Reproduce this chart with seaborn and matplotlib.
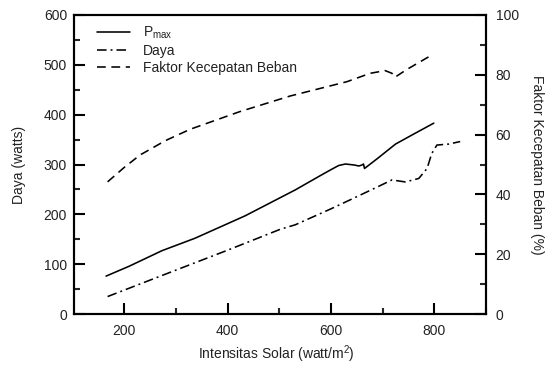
import matplotlib
matplotlib.use("Agg")
import matplotlib.pyplot as plt
import seaborn as sns
from matplotlib.ticker import MultipleLocator

# ---- data ----
intensitas_pmax = [165, 210, 273, 337, 434, 531, 580, 599, 615, 628, 645, 654, 660, 663, 665, 690, 725, 760, 799]
pmax = [76, 96, 127, 152, 197, 249, 278, 289, 298, 301, 299, 297, 299, 301, 292, 312, 341, 361, 383]

intensitas_daya = [168, 280, 400, 502, 531, 600, 637, 690, 718, 744, 770, 786, 795, 805, 828, 850]
daya = [35, 80, 128, 170, 179, 211, 229, 255, 269, 265, 272, 292, 322, 339, 341, 346]

intensitas_faktor = [168, 200, 231, 280, 328, 424, 521, 631, 676, 705, 718, 724, 747, 797]
faktor = [44.2, 49, 53.2, 58, 61.8, 67.7, 72.9, 77.7, 80.5, 81.4, 80.5, 79.2, 81.8, 86.8]

label_pmax = r"P$_{\mathregular{max}}$"
label_daya = "Daya"
label_faktor = "Faktor Kecepatan Beban"

sns.set_style("ticks")
plt.rcParams["font.family"] = ["Liberation Sans", "DejaVu Sans"]
plt.rcParams["mathtext.default"] = "regular"

fig = plt.figure(figsize=(5.51, 3.65), dpi=100)
ax = fig.add_axes([74 / 551, 1 - 314 / 365, (486 - 74) / 551, (314 - 15) / 365])
ax2 = ax.twinx()

lw = 1.15
sns.lineplot(x=intensitas_pmax, y=pmax, ax=ax, color="black", linewidth=lw,
             label=label_pmax, legend=False)
sns.lineplot(x=intensitas_daya, y=daya, ax=ax, color="black", linewidth=lw,
             linestyle=(0, (6, 2.5, 1.2, 2.5)), label=label_daya, legend=False)
sns.lineplot(x=intensitas_faktor, y=faktor, ax=ax2, color="black", linewidth=lw,
             linestyle=(0, (5.5, 3.5)), label=label_faktor, legend=False)

ax.set_xlim(103, 900)
ax.set_ylim(0, 600)
ax2.set_ylim(0, 100)

ax.xaxis.set_major_locator(MultipleLocator(200))
ax.xaxis.set_minor_locator(MultipleLocator(100))
ax.yaxis.set_major_locator(MultipleLocator(100))
ax.yaxis.set_minor_locator(MultipleLocator(50))
ax2.yaxis.set_major_locator(MultipleLocator(20))
ax2.yaxis.set_minor_locator(MultipleLocator(10))

fs_tick = 10
fs_lab = 10
fs_leg = 10
for a in (ax, ax2):
    a.tick_params(which="major", direction="in", length=8, width=1.5,
                  labelsize=fs_tick, pad=5, colors="black", labelcolor="#222222")
    a.tick_params(which="minor", direction="in", length=4.3, width=1.5)
    for s in a.spines.values():
        s.set_linewidth(1.5)
        s.set_visible(True)
        s.set_color("black")
ax.tick_params(axis="x", which="both", top=False, pad=7)
ax.tick_params(axis="y", which="both", right=False)
ax2.tick_params(axis="y", which="both", left=False, right=True, pad=7)

ax.set_xlabel("Intensitas Solar (watt/m$^{2}$)", fontsize=fs_lab, color="#222222")
ax.set_ylabel("Daya (watts)", fontsize=fs_lab, color="#222222")
ax2.set_ylabel("Faktor Kecepatan Beban (%)", fontsize=fs_lab, rotation=270,
               color="#222222", va="center")
ax.xaxis.set_label_coords(0.49, -0.098)
ax.yaxis.set_label_coords(-0.117, 0.5)
ax2.yaxis.set_label_coords(1.124, 0.5)

h1, l1 = ax.get_legend_handles_labels()
h2, l2 = ax2.get_legend_handles_labels()
leg = ax.legend(h1 + h2, l1 + l2, loc="upper left", frameon=False, fontsize=fs_leg,
                handlelength=2.4, handletextpad=0.9, labelspacing=0.22,
                bbox_to_anchor=(0.025, 1.01))
for t in leg.get_texts():
    t.set_color("#222222")

fig.savefig("out.png", dpi=100)
